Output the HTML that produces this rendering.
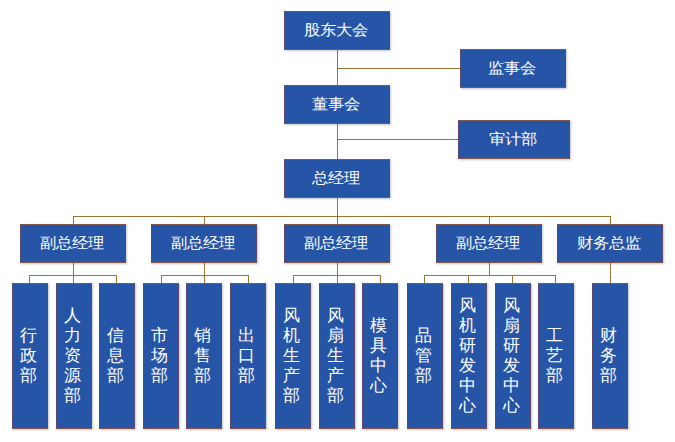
<!DOCTYPE html>
<html><head><meta charset="utf-8"><style>
html,body{margin:0;padding:0;background:#fff;}
body{width:675px;height:442px;position:relative;overflow:hidden;font-family:"Liberation Sans",sans-serif;}
.b{position:absolute;box-sizing:border-box;background:#2655a7;border:1px solid;border-color:#80584e #5a4a6e #80584e #5a4a6e;box-shadow:1px 1px 2px rgba(80,80,80,.35);color:#fff;font-size:16px;display:flex;align-items:center;justify-content:center;white-space:nowrap;}
.v{flex-direction:column;line-height:20px;font-size:17px;}
.l{position:absolute;background:#9a7532;}
.t{display:inline-block;position:relative;left:-1px;top:-0.5px;transform:scaleY(0.92);}
.tv{text-align:center;position:relative;left:-1.5px;}
</style></head><body>

<div class="l" style="left:337px;top:49px;width:1px;height:176px"></div>
<div class="l" style="left:337px;top:68px;width:124px;height:1px"></div>
<div class="l" style="left:337px;top:139px;width:122px;height:1px"></div>
<div class="l" style="left:73px;top:216px;width:538px;height:1px"></div>
<div class="l" style="left:73px;top:216px;width:1px;height:9px"></div>
<div class="l" style="left:204px;top:216px;width:1px;height:9px"></div>
<div class="l" style="left:489px;top:216px;width:1px;height:9px"></div>
<div class="l" style="left:610px;top:216px;width:1px;height:9px"></div>
<div class="l" style="left:73px;top:262px;width:1px;height:14px"></div>
<div class="l" style="left:29px;top:275px;width:88px;height:1px"></div>
<div class="l" style="left:29px;top:275px;width:1px;height:9px"></div>
<div class="l" style="left:73px;top:275px;width:1px;height:9px"></div>
<div class="l" style="left:116px;top:275px;width:1px;height:9px"></div>
<div class="l" style="left:204px;top:262px;width:1px;height:14px"></div>
<div class="l" style="left:161px;top:275px;width:88px;height:1px"></div>
<div class="l" style="left:161px;top:275px;width:1px;height:9px"></div>
<div class="l" style="left:204px;top:275px;width:1px;height:9px"></div>
<div class="l" style="left:248px;top:275px;width:1px;height:9px"></div>
<div class="l" style="left:337px;top:262px;width:1px;height:14px"></div>
<div class="l" style="left:293px;top:275px;width:88px;height:1px"></div>
<div class="l" style="left:293px;top:275px;width:1px;height:9px"></div>
<div class="l" style="left:337px;top:275px;width:1px;height:9px"></div>
<div class="l" style="left:380px;top:275px;width:1px;height:9px"></div>
<div class="l" style="left:489px;top:262px;width:1px;height:14px"></div>
<div class="l" style="left:424px;top:275px;width:132px;height:1px"></div>
<div class="l" style="left:424px;top:275px;width:1px;height:9px"></div>
<div class="l" style="left:468px;top:275px;width:1px;height:9px"></div>
<div class="l" style="left:512px;top:275px;width:1px;height:9px"></div>
<div class="l" style="left:555px;top:275px;width:1px;height:9px"></div>
<div class="l" style="left:610px;top:262px;width:1px;height:22px"></div>
<div class="b" style="left:284px;top:11px;width:106px;height:39px"><span class="t">股东大会</span></div>
<div class="b" style="left:284px;top:85px;width:106px;height:39px"><span class="t">董事会</span></div>
<div class="b" style="left:284px;top:159px;width:106px;height:39px"><span class="t">总经理</span></div>
<div class="b" style="left:460px;top:49px;width:106px;height:39px"><span class="t">监事会</span></div>
<div class="b" style="left:458px;top:120px;width:112px;height:39px"><span class="t">审计部</span></div>
<div class="b" style="left:20px;top:224px;width:106px;height:39px"><span class="t">副总经理</span></div>
<div class="b" style="left:151px;top:224px;width:106px;height:39px"><span class="t">副总经理</span></div>
<div class="b" style="left:284px;top:224px;width:106px;height:39px"><span class="t">副总经理</span></div>
<div class="b" style="left:436px;top:224px;width:106px;height:39px"><span class="t">副总经理</span></div>
<div class="b" style="left:557px;top:224px;width:106px;height:39px"><span class="t">财务总监</span></div>
<div class="b v" style="left:12px;top:283px;width:36px;height:146px"><div class="tv">行<br>政<br>部</div></div>
<div class="b v" style="left:56px;top:283px;width:36px;height:146px"><div class="tv">人<br>力<br>资<br>源<br>部</div></div>
<div class="b v" style="left:99px;top:283px;width:36px;height:146px"><div class="tv">信<br>息<br>部</div></div>
<div class="b v" style="left:143px;top:283px;width:36px;height:146px"><div class="tv">市<br>场<br>部</div></div>
<div class="b v" style="left:186px;top:283px;width:36px;height:146px"><div class="tv">销<br>售<br>部</div></div>
<div class="b v" style="left:230px;top:283px;width:36px;height:146px"><div class="tv">出<br>口<br>部</div></div>
<div class="b v" style="left:275px;top:283px;width:36px;height:146px"><div class="tv">风<br>机<br>生<br>产<br>部</div></div>
<div class="b v" style="left:319px;top:283px;width:36px;height:146px"><div class="tv">风<br>扇<br>生<br>产<br>部</div></div>
<div class="b v" style="left:362px;top:283px;width:36px;height:146px"><div class="tv">模<br>具<br>中<br>心</div></div>
<div class="b v" style="left:407px;top:283px;width:36px;height:146px"><div class="tv">品<br>管<br>部</div></div>
<div class="b v" style="left:451px;top:283px;width:36px;height:146px"><div class="tv">风<br>机<br>研<br>发<br>中<br>心</div></div>
<div class="b v" style="left:495px;top:283px;width:36px;height:146px"><div class="tv">风<br>扇<br>研<br>发<br>中<br>心</div></div>
<div class="b v" style="left:538px;top:283px;width:36px;height:146px"><div class="tv">工<br>艺<br>部</div></div>
<div class="b v" style="left:592px;top:283px;width:36px;height:146px"><div class="tv">财<br>务<br>部</div></div>
</body></html>
